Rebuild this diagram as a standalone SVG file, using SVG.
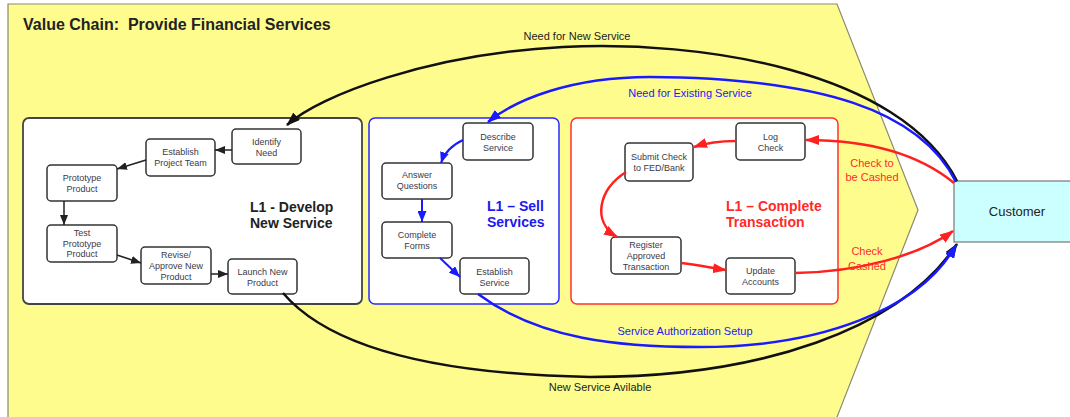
<svg xmlns="http://www.w3.org/2000/svg" width="1070" height="417" viewBox="0 0 1070 417">
<style>
.node rect{fill:#fff;stroke:#333;stroke-width:1.5}
.nt{font-family:"Liberation Sans",Arial,sans-serif;font-size:9px;fill:#3a3a4a;text-anchor:middle}
.lbl{font-family:"Liberation Sans",Arial,sans-serif;font-size:11px;text-anchor:middle}
.ttl{font-family:"Liberation Sans",Arial,sans-serif;font-size:14px;font-weight:bold}
.bk{fill:none;stroke:#111;stroke-width:2.5}
.bl{fill:none;stroke:#1a1aff;stroke-width:2.5}
.rd{fill:none;stroke:#ff2020;stroke-width:2.5}
.ibk{fill:none;stroke:#222;stroke-width:1.5}
.ibl{fill:none;stroke:#1a1aff;stroke-width:2}
</style>
<defs>
<marker id="ab" markerUnits="userSpaceOnUse" markerWidth="14" markerHeight="10" viewBox="0 0 14 10" refX="13" refY="5" orient="auto"><path d="M0,0 L14,5 L0,10 z" fill="#111"/></marker>
<marker id="abl" markerUnits="userSpaceOnUse" markerWidth="14" markerHeight="10" viewBox="0 0 14 10" refX="13" refY="5" orient="auto"><path d="M0,0 L14,5 L0,10 z" fill="#1a1aff"/></marker>
<marker id="ard" markerUnits="userSpaceOnUse" markerWidth="14" markerHeight="10" viewBox="0 0 14 10" refX="13" refY="5" orient="auto"><path d="M0,0 L14,5 L0,10 z" fill="#ff2020"/></marker>
<marker id="sb" markerUnits="userSpaceOnUse" markerWidth="10" markerHeight="8" viewBox="0 0 10 8" refX="10" refY="4" orient="auto"><path d="M0,0 L10,4 L0,8 z" fill="#222"/></marker>
<marker id="sbl" markerUnits="userSpaceOnUse" markerWidth="11" markerHeight="9" viewBox="0 0 11 9" refX="11" refY="4.5" orient="auto"><path d="M0,0 L11,4.5 L0,9 z" fill="#1a1aff"/></marker>
</defs>
<rect x="0" y="0" width="1070" height="417" fill="#fff"/>
<g id="value-chain">
<polygon points="8,4 837,4 918,210 837,417 837,420 8,420" fill="#fffc8e" stroke="#8a8a70" stroke-width="1.2"/>
<text x="23" y="30" font-family="Liberation Sans,Arial,sans-serif" font-size="16" font-weight="bold" fill="#222" xml:space="preserve">Value Chain:  Provide Financial Services</text>
</g>
<g id="develop">
<rect x="23" y="118" width="339" height="186" rx="6" fill="#fff" stroke="#444" stroke-width="1.8"/>
<text class="ttl" fill="#222"><tspan x="250" y="212">L1 - Develop</tspan><tspan x="250" y="228">New Service</tspan></text>
</g>
<g id="sell">
<rect x="369" y="118" width="190" height="186" rx="6" fill="#fff" stroke="#2a2aff" stroke-width="1.5"/>
<text class="ttl" fill="#1a1aee"><tspan x="487" y="211">L1 – Sell</tspan><tspan x="487" y="227">Services</tspan></text>
</g>
<g id="complete">
<rect x="571" y="118" width="267" height="186" rx="6" fill="#fff" stroke="#ff3030" stroke-width="1.5"/>
<text class="ttl" fill="#ff2a2a"><tspan x="726" y="211">L1 – Complete</tspan><tspan x="726" y="227">Transaction</tspan></text>
</g>
<g id="customer">
<rect x="954" y="181" width="120" height="61" fill="#ccffff" stroke="#777" stroke-width="1.2"/>
<text x="1017" y="216" font-family="Liberation Sans,Arial,sans-serif" font-size="13" fill="#222" text-anchor="middle">Customer</text>
</g>
<g id="identify-need" class="node"><rect x="232" y="129" width="69" height="35" rx="4"/><text class="nt"><tspan x="266.5" y="145">Identify</tspan><tspan x="266.5" y="156">Need</tspan></text></g>
<g id="establish-project-team" class="node"><rect x="146" y="139" width="69" height="37" rx="4"/><text class="nt"><tspan x="180.5" y="155">Establish</tspan><tspan x="180.5" y="166">Project Team</tspan></text></g>
<g id="prototype-product" class="node"><rect x="47" y="165" width="70" height="36" rx="4"/><text class="nt"><tspan x="82" y="181">Prototype</tspan><tspan x="82" y="192">Product</tspan></text></g>
<g id="test-prototype-product" class="node"><rect x="47" y="225" width="70" height="37" rx="4"/><text class="nt"><tspan x="82" y="236">Test</tspan><tspan x="82" y="246.5">Prototype</tspan><tspan x="82" y="257">Product</tspan></text></g>
<g id="revise-approve" class="node"><rect x="141" y="247" width="70" height="37" rx="4"/><text class="nt"><tspan x="176" y="258">Revise/</tspan><tspan x="176" y="269">Approve New</tspan><tspan x="176" y="280">Product</tspan></text></g>
<g id="launch-new-product" class="node"><rect x="228" y="259" width="69" height="35" rx="4"/><text class="nt"><tspan x="262.5" y="275">Launch New</tspan><tspan x="262.5" y="285.5">Product</tspan></text></g>
<g id="describe-service" class="node"><rect x="463" y="123" width="70" height="37" rx="4"/><text class="nt"><tspan x="498" y="140">Describe</tspan><tspan x="498" y="150.5">Service</tspan></text></g>
<g id="answer-questions" class="node"><rect x="382" y="163" width="70" height="36" rx="4"/><text class="nt"><tspan x="417" y="178">Answer</tspan><tspan x="417" y="189">Questions</tspan></text></g>
<g id="complete-forms" class="node"><rect x="382" y="222" width="70" height="36" rx="4"/><text class="nt"><tspan x="417" y="238">Complete</tspan><tspan x="417" y="249">Forms</tspan></text></g>
<g id="establish-service" class="node"><rect x="460" y="258" width="69" height="36" rx="4"/><text class="nt"><tspan x="494.5" y="275">Establish</tspan><tspan x="494.5" y="286">Service</tspan></text></g>
<g id="log-check" class="node"><rect x="736" y="123" width="69" height="37" rx="4"/><text class="nt"><tspan x="770.5" y="140">Log</tspan><tspan x="770.5" y="150.5">Check</tspan></text></g>
<g id="submit-check" class="node"><rect x="625" y="143" width="68" height="38" rx="4"/><text class="nt"><tspan x="659" y="160">Submit Check</tspan><tspan x="659" y="171">to FED/Bank</tspan></text></g>
<g id="register-transaction" class="node"><rect x="611" y="237" width="70" height="37" rx="4"/><text class="nt"><tspan x="646" y="248">Register</tspan><tspan x="646" y="259">Approved</tspan><tspan x="646" y="270">Transaction</tspan></text></g>
<g id="update-accounts" class="node"><rect x="726" y="258" width="69" height="36" rx="4"/><text class="nt"><tspan x="760.5" y="274">Update</tspan><tspan x="760.5" y="285">Accounts</tspan></text></g>
<g id="connectors">
<path class="bk" d="M957,181 C900,70 700,40 563,47 C430,54 320,95 287,125" marker-end="url(#ab)"/>
<path class="bk" d="M283,293 C340,360 480,375 590,377 C760,377 900,330 957,244" marker-end="url(#ab)"/>
<path class="bl" d="M956,182 C920,110 820,78 650,77 C570,77 515,100 488,122" marker-end="url(#abl)"/>
<path class="bl" d="M478,294 C540,340 620,347 700,347 C820,347 920,310 956,245" marker-end="url(#abl)"/>
<path class="rd" d="M954,183 C920,155 870,140 806,140" marker-end="url(#ard)"/>
<path class="rd" d="M736,141 C718,141 706,143 694,147" marker-end="url(#ard)"/>
<path class="rd" d="M626,172 C598,190 592,222 617,237" marker-end="url(#ard)"/>
<path class="rd" d="M681,263 C700,265 712,268 726,270" marker-end="url(#ard)"/>
<path class="rd" d="M795,273 C860,272 920,255 953,231" marker-end="url(#ard)"/>
<path class="ibk" d="M232,150 L215,150" marker-end="url(#sb)"/>
<path class="ibk" d="M146,160 L117,169" marker-end="url(#sb)"/>
<path class="ibk" d="M64,201 L64,225" marker-end="url(#sb)"/>
<path class="ibk" d="M117,255 L141,263" marker-end="url(#sb)"/>
<path class="ibk" d="M211,274 L228,274" marker-end="url(#sb)"/>
<path class="ibl" d="M463,140 C450,146 444,154 441,163" marker-end="url(#sbl)"/>
<path class="ibl" d="M422,199 L422,222" marker-end="url(#sbl)"/>
<path class="ibl" d="M440,258 L460,277" marker-end="url(#sbl)"/>
<text class="lbl" x="577" y="40" fill="#222">Need for New Service</text>
<text class="lbl" x="690" y="97" fill="#1a1aee">Need for Existing Service</text>
<text class="lbl" x="685" y="335" fill="#1a1aee">Service Authorization Setup</text>
<text class="lbl" x="600" y="391" fill="#222">New Service Avilable</text>
<text class="lbl" fill="#ff2a2a"><tspan x="872" y="167">Check to</tspan><tspan x="872" y="181">be Cashed</tspan></text>
<text class="lbl" fill="#ff2a2a"><tspan x="867" y="255">Check</tspan><tspan x="867" y="270">Cashed</tspan></text>
</g>
</svg>
